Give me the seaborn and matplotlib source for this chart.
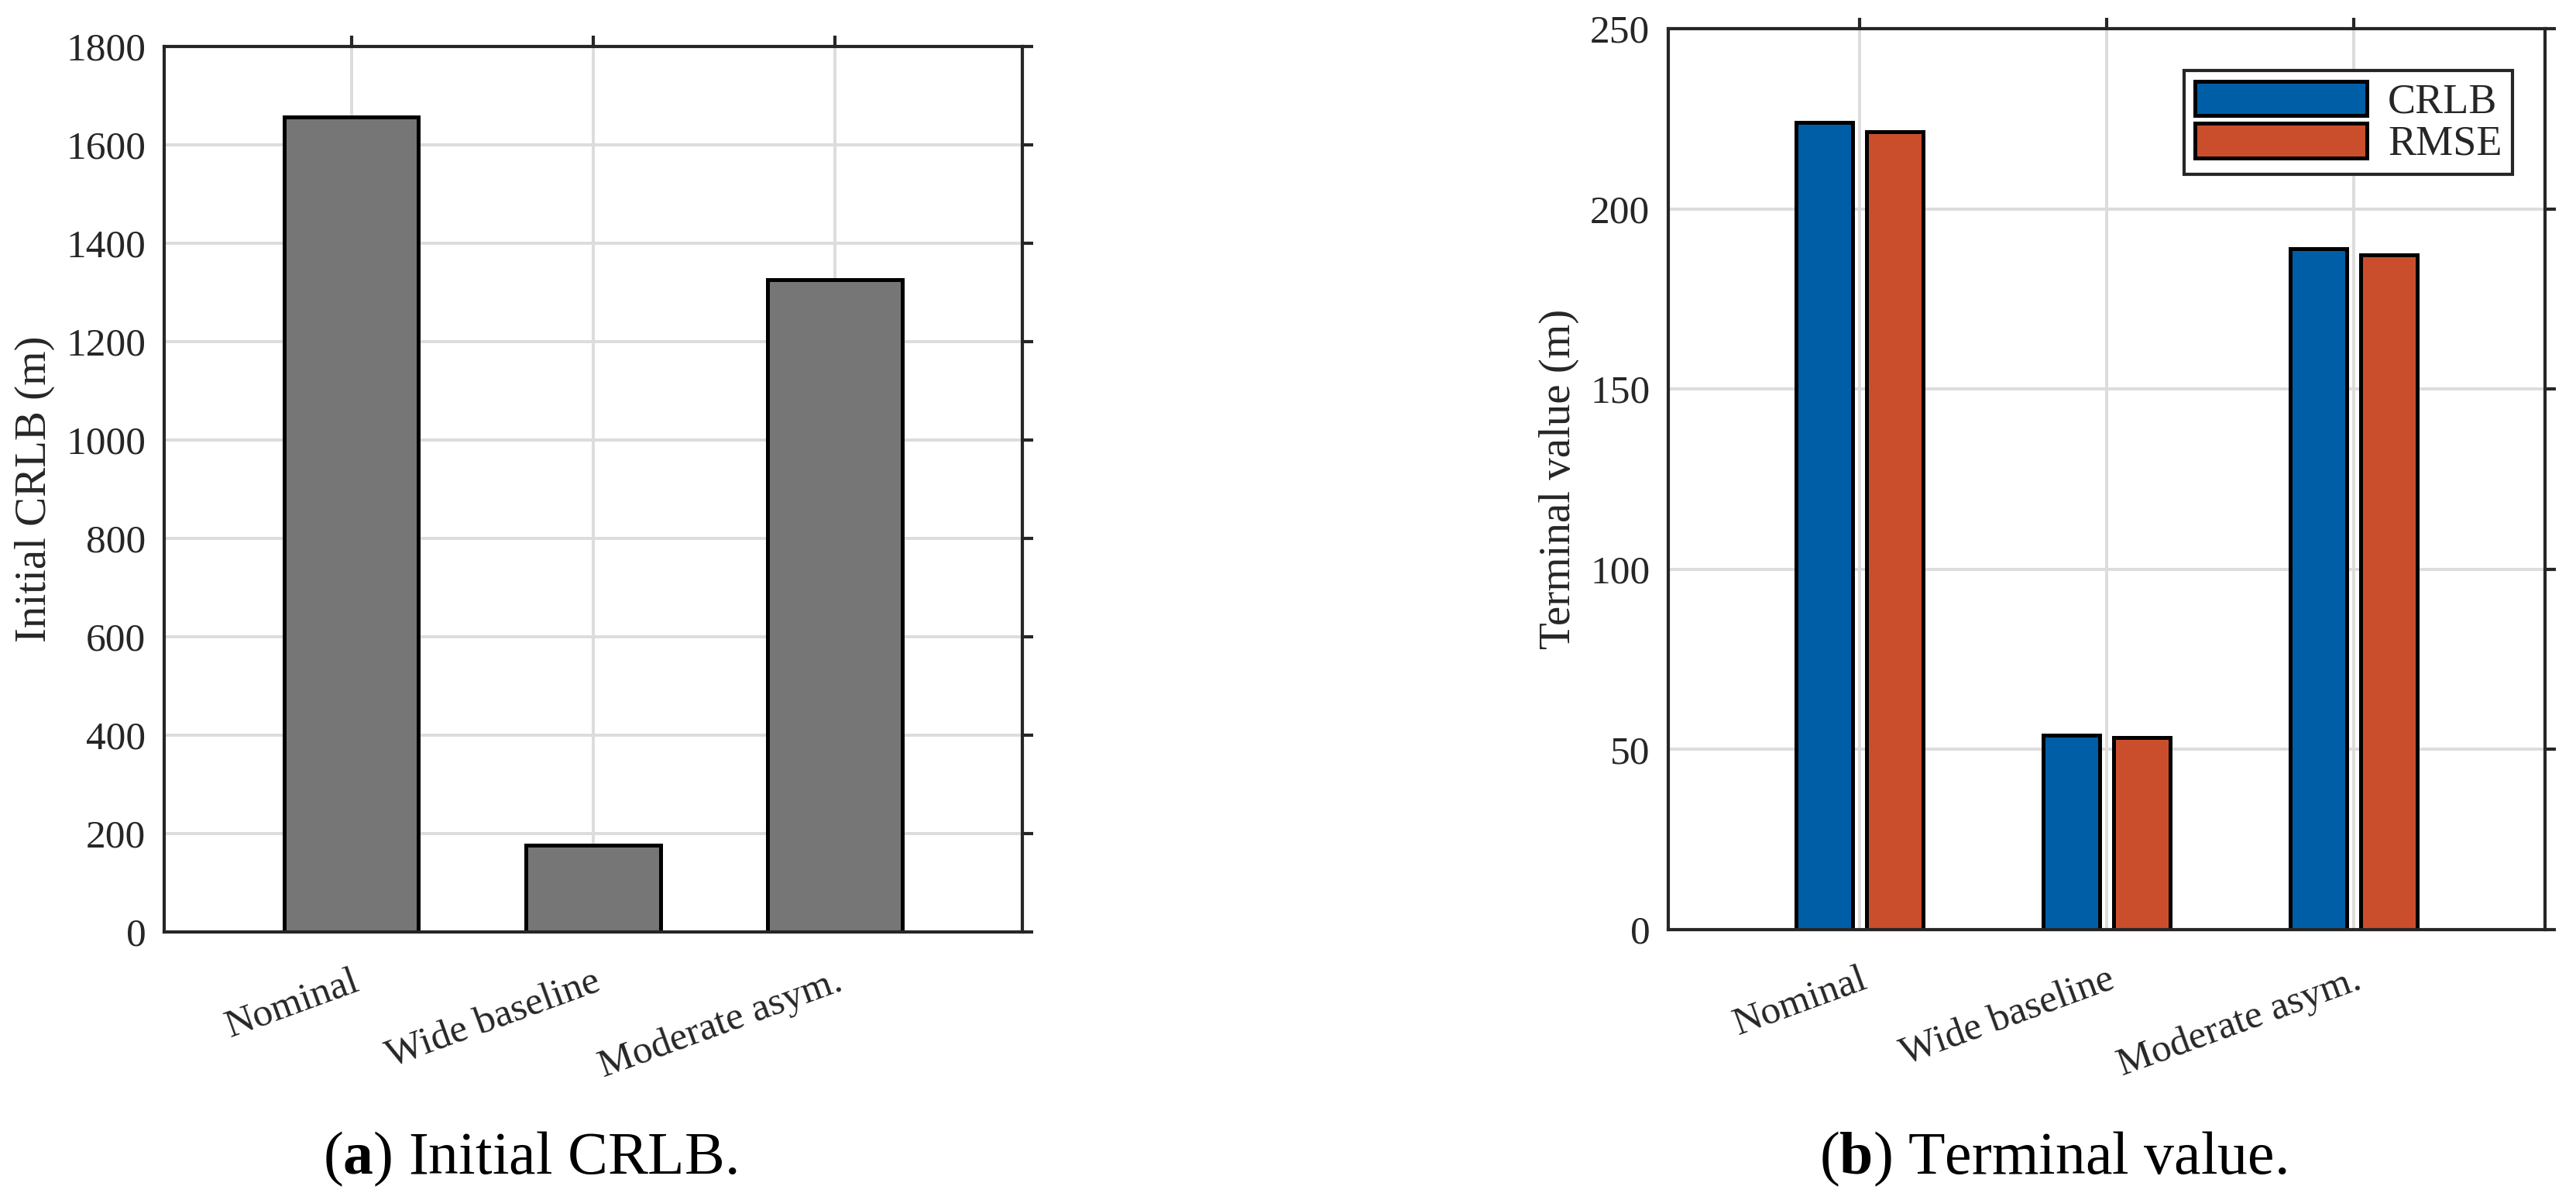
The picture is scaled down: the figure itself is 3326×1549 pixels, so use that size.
import numpy as np
import pandas as pd
import matplotlib
matplotlib.use("Agg")
import matplotlib.pyplot as plt
import seaborn as sns

# --- DATA ---
scenarios = ["Nominal", "Wide baseline", "Moderate asym."]
initial_crlb = [1657, 177, 1326]
terminal_crlb = [224, 54, 189]
terminal_rmse = [221.4, 53.3, 187.2]
left_yticks = [0, 200, 400, 600, 800, 1000, 1200, 1400, 1600, 1800]
right_yticks = [0, 50, 100, 150, 200, 250]

# --- STYLING SETUP ---
sns.set_theme(style="white")
plt.rcParams['font.family'] = ['Liberation Serif', 'DejaVu Serif']
plt.rcParams['mathtext.fontset'] = 'custom'
plt.rcParams['mathtext.rm'] = 'Liberation Serif'
plt.rcParams['mathtext.bf'] = 'Liberation Serif:bold'

AX_COL = '#262626'
GRID_COL = '#dcdcdc'
GRAY = '#767676'
BLUE = '#005ea6'
ORANGE = '#cb4e2c'
TICK_FS = 18.5
LABEL_FS = 20.5

fig = plt.figure(figsize=(16.63, 7.745), dpi=200)
ax1 = fig.add_axes([0.0637, 0.2234, 0.3331, 0.7379])
ax2 = fig.add_axes([0.6476, 0.2253, 0.3404, 0.7508])


def style_axes(ax, yticks, ylabel):
    ax.set_axisbelow(True)
    ax.grid(True, color=GRID_COL, linewidth=1.4)
    ax.set_xlim(-0.775, 2.775)
    ax.set_ylim(yticks[0], yticks[-1])
    ax.set_yticks(yticks)
    ax.set_xticks(range(len(scenarios)))
    ax.set_xticklabels(scenarios, rotation=20, ha='right', va='top',
                       rotation_mode='anchor')
    for s in ax.spines.values():
        s.set_visible(True)
        s.set_color(AX_COL)
        s.set_linewidth(1.5)
    ax.tick_params(axis='both', which='both', direction='out', length=5,
                   width=1.5, color=AX_COL, labelcolor=AX_COL,
                   labelsize=TICK_FS, top=True, right=True,
                   labeltop=False, labelright=False)
    ax.tick_params(axis='x', pad=10)
    ax.set_xlabel('')
    ax.set_ylabel(ylabel, fontsize=LABEL_FS, color=AX_COL, labelpad=5)


# --- (a) Initial CRLB ---
df_a = pd.DataFrame({'Scenario': scenarios, 'Initial CRLB': initial_crlb})
sns.barplot(data=df_a, x='Scenario', y='Initial CRLB', color=GRAY,
            saturation=1, width=0.556, edgecolor='black', linewidth=1.8,
            ax=ax1)
style_axes(ax1, left_yticks, 'Initial CRLB (m)')

# --- (b) Terminal value ---
df_b = pd.DataFrame({
    'Scenario': scenarios * 2,
    'Value': terminal_crlb + terminal_rmse,
    'Metric': ['CRLB'] * 3 + ['RMSE'] * 3,
})
sns.barplot(data=df_b, x='Scenario', y='Value', hue='Metric',
            palette=[BLUE, ORANGE], saturation=1, width=0.572, gap=0.2,
            edgecolor='black', linewidth=1.8, legend=False, ax=ax2)
style_axes(ax2, right_yticks, 'Terminal value (m)')

leg = ax2.legend(ax2.containers, ['CRLB', 'RMSE'], loc='upper right',
                 bbox_to_anchor=(0.963, 0.9536), borderaxespad=0,
                 fontsize=19.5, handlelength=4.1, handleheight=0.9,
                 handletextpad=0.5, labelspacing=0.02, borderpad=0.25,
                 fancybox=False, framealpha=1, edgecolor=AX_COL)
leg.get_frame().set_linewidth(1.5)

# --- captions ---
fig.text(0.2057, 0.01, r'($\mathbf{a}$) Initial CRLB.', fontsize=28,
         ha='center', va='bottom', color='black')
fig.text(0.797, 0.01, r'($\mathbf{b}$) Terminal value.', fontsize=28,
         ha='center', va='bottom', color='black')

fig.savefig('out.png', dpi=200)
